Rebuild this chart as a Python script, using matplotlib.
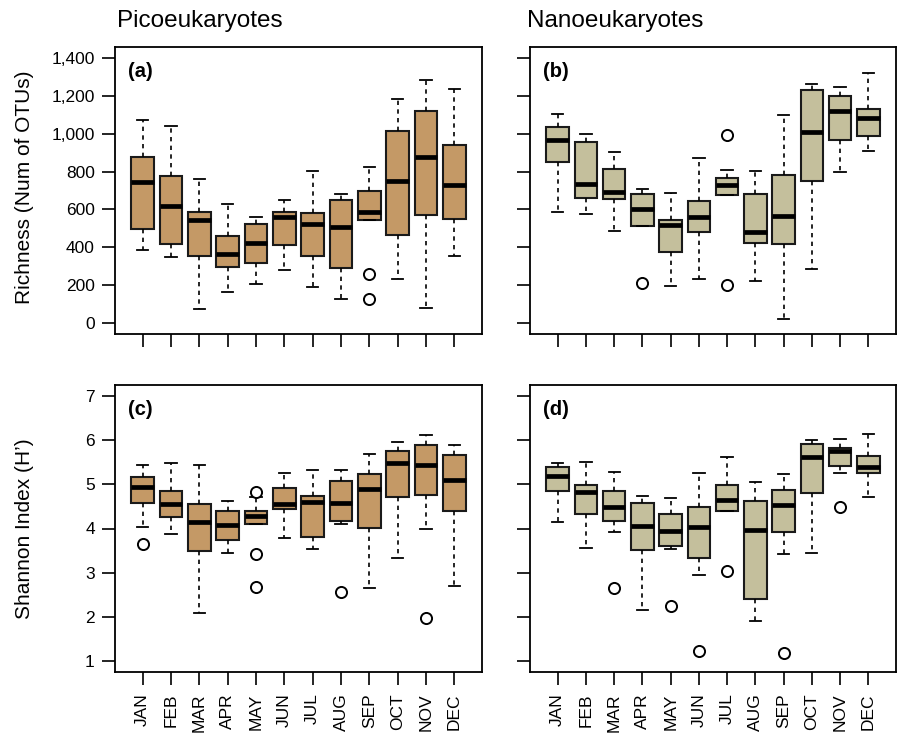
import matplotlib
matplotlib.use("Agg")
import matplotlib.pyplot as plt
from matplotlib.ticker import FuncFormatter

plt.rcParams['font.family'] = ['Liberation Sans', 'DejaVu Sans']

months = ["JAN", "FEB", "MAR", "APR", "MAY", "JUN", "JUL", "AUG", "SEP", "OCT", "NOV", "DEC"]

# (a) Picoeukaryotes richness
a_lo  = [387, 350, 77, 167, 208, 282, 192, 130, 542, 236, 83, 356]
a_q1  = [498, 416, 357, 299, 317, 412, 356, 294, 542, 468, 571, 548]
a_med = [743, 618, 544, 368, 421, 560, 523, 509, 585, 748, 875, 731]
a_q3  = [875, 777, 585, 458, 525, 588, 581, 650, 696, 1016, 1118, 939]
a_hi  = [1069, 1039, 759, 627, 558, 652, 801, 683, 824, 1182, 1280, 1233]
a_out = [[], [], [], [], [], [], [], [], [261, 127], [], [], []]

# (b) Nanoeukaryotes richness
b_lo  = [585, 574, 487, 511, 195, 234, 675, 223, 25, 288, 799, 910]
b_q1  = [848, 662, 655, 511, 374, 480, 675, 423, 420, 748, 964, 985]
b_med = [964, 736, 694, 603, 518, 562, 727, 483, 566, 1007, 1117, 1084]
b_q3  = [1033, 954, 812, 680, 546, 646, 768, 680, 780, 1231, 1198, 1129]
b_hi  = [1105, 999, 905, 706, 689, 870, 806, 805, 1098, 1263, 1244, 1321]
b_out = [[], [], [], [211], [], [], [991, 204], [], [], [], [], []]

# (c) Picoeukaryotes Shannon
c_lo  = [4.03, 3.88, 2.10, 3.45, 4.10, 3.79, 3.53, 4.10, 2.66, 3.33, 4.00, 2.70]
c_q1  = [4.58, 4.26, 3.50, 3.74, 4.10, 4.45, 3.81, 4.17, 4.02, 4.70, 4.76, 4.40]
c_med = [4.94, 4.55, 4.15, 4.07, 4.29, 4.56, 4.60, 4.58, 4.90, 5.49, 5.44, 5.10]
c_q3  = [5.17, 4.85, 4.55, 4.39, 4.39, 4.92, 4.73, 5.08, 5.24, 5.75, 5.89, 5.67]
c_hi  = [5.44, 5.47, 5.43, 4.61, 4.72, 5.25, 5.31, 5.32, 5.68, 5.95, 6.10, 5.89]
c_out = [[3.66], [], [], [], [4.83, 3.42, 2.69], [], [], [2.57], [], [], [1.97], []]

# (d) Nanoeukaryotes Shannon
d_lo  = [4.14, 3.56, 3.93, 2.17, 3.53, 2.95, 4.39, 1.91, 3.42, 3.44, 5.25, 4.70]
d_q1  = [4.84, 4.32, 4.17, 3.52, 3.60, 3.34, 4.39, 2.41, 3.92, 4.81, 5.41, 5.25]
d_med = [5.18, 4.83, 4.49, 4.06, 3.94, 4.03, 4.64, 3.97, 4.53, 5.62, 5.74, 5.39]
d_q3  = [5.39, 4.98, 4.85, 4.58, 4.32, 4.49, 4.98, 4.61, 4.86, 5.90, 5.81, 5.64]
d_hi  = [5.47, 5.50, 5.27, 4.73, 4.69, 5.25, 5.61, 5.06, 5.23, 6.00, 6.01, 6.14]
d_out = [[], [], [2.66], [], [2.26], [1.24], [3.04], [], [1.20], [], [4.49], []]

pico_color = "#C49966"
nano_color = "#C4BF9C"

W, H = 898, 733
fig = plt.figure(figsize=(W / 100, H / 100), dpi=100)


def ax_at(x0, y0, x1, y1):
    return fig.add_axes([x0 / W, 1 - y1 / H, (x1 - x0) / W, (y1 - y0) / H])


axA = ax_at(115, 47, 482, 334)
axB = ax_at(530, 47, 896, 334)
axC = ax_at(115, 385, 482, 672)
axD = ax_at(530, 385, 896, 672)


def draw(ax, lo, q1, med, q3, hi, out, color):
    stats = []
    for i in range(len(months)):
        stats.append(dict(whislo=lo[i], q1=q1[i], med=med[i], q3=q3[i],
                          whishi=hi[i], fliers=out[i]))
    ax.bxp(stats, positions=list(range(1, 13)), widths=0.8, capwidths=0.4,
           patch_artist=True,
           boxprops=dict(facecolor=color, edgecolor="#1a1a1a", linewidth=1.5),
           medianprops=dict(color="black", linewidth=3.4, solid_capstyle="butt"),
           whiskerprops=dict(color="black", linestyle=(0, (2.6, 2.6)), linewidth=1.2),
           capprops=dict(color="black", linewidth=1.3),
           flierprops=dict(marker="o", markerfacecolor="white", markeredgecolor="black",
                           markersize=8, markeredgewidth=1.4, linestyle="none"))
    ax.set_xlim(0.02, 12.98)
    ax.set_xticks(range(1, 13))
    for s in ax.spines.values():
        s.set_linewidth(1.3)
    ax.tick_params(direction="out", length=9.5, width=1.2, labelsize=12.5,
                   top=False, right=False)
    ax.tick_params(axis="y", pad=5)
    ax.tick_params(axis="x", pad=6, labelsize=12.5)


draw(axA, a_lo, a_q1, a_med, a_q3, a_hi, a_out, pico_color)
draw(axB, b_lo, b_q1, b_med, b_q3, b_hi, b_out, nano_color)
draw(axC, c_lo, c_q1, c_med, c_q3, c_hi, c_out, pico_color)
draw(axD, d_lo, d_q1, d_med, d_q3, d_hi, d_out, nano_color)

for ax in (axA, axB):
    ax.set_ylim(-56, 1456)
    ax.set_yticks(range(0, 1401, 200))
    ax.set_xticklabels([])
for ax in (axC, axD):
    ax.set_ylim(0.76, 7.24)
    ax.set_yticks(range(1, 8))
    ax.set_xticklabels(months, rotation=90)

axA.yaxis.set_major_formatter(FuncFormatter(lambda v, p: f"{int(v):,}"))
axB.set_yticklabels([])
axD.set_yticklabels([])

for ax, lab in zip((axA, axB, axC, axD), ("(a)", "(b)", "(c)", "(d)")):
    ax.text(0.035, 0.915, lab, transform=ax.transAxes, fontsize=14.5,
            fontweight="bold", ha="left", va="center")

fig.text(117 / W, 1 - 21 / H, "Picoeukaryotes", fontsize=17.5, ha="left", va="center")
fig.text(527 / W, 1 - 21 / H, "Nanoeukaryotes", fontsize=17.5, ha="left", va="center")
fig.text(25 / W, 1 - 187 / H, "Richness (Num of OTUs)", fontsize=15,
         rotation=90, ha="center", va="center")
fig.text(25 / W, 1 - 529 / H, "Shannon Index (H\u2019)", fontsize=15,
         rotation=90, ha="center", va="center")

fig.savefig("out.png", dpi=100)
